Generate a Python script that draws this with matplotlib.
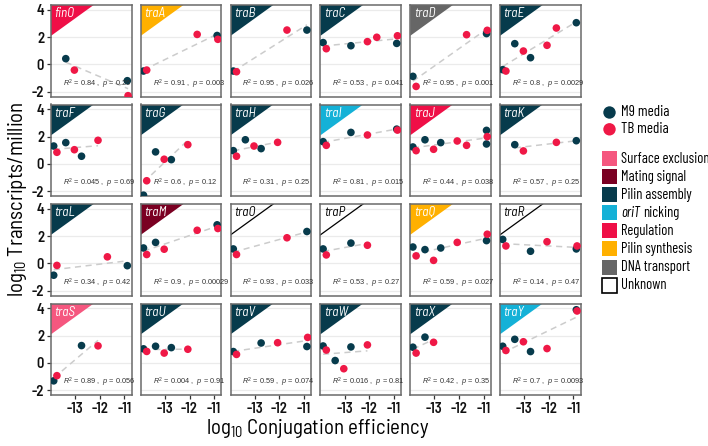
import numpy as np
import matplotlib
matplotlib.use("Agg")
import matplotlib.pyplot as plt
from matplotlib.patches import Polygon, Rectangle, Circle
from matplotlib.lines import Line2D

FAM = ['Barlow Semi Condensed', 'Barlow Condensed', 'DejaVu Sans']
LFAM = ['Barlow Condensed', 'Barlow Semi Condensed', 'DejaVu Sans']
plt.rcParams['axes.unicode_minus'] = False
plt.rcParams['font.family'] = FAM
plt.rcParams['mathtext.fontset'] = 'custom'
plt.rcParams['mathtext.rm'] = 'Liberation Sans'
plt.rcParams['mathtext.it'] = 'Liberation Sans:italic'

# ---------------- data ----------------
genes = ["finO", "traA", "traB", "traC", "traD", "traE",
         "traF", "traG", "traH", "traI", "traJ", "traK",
         "traL", "traM", "traO", "traP", "traQ", "traR",
         "traS", "traU", "traV", "traW", "traX", "traY"]
gene_function = ["Regulation", "Pilin synthesis", "Pilin assembly", "Pilin assembly", "DNA transport", "Pilin assembly",
                 "Pilin assembly", "Pilin assembly", "Pilin assembly", "oriT nicking", "Regulation", "Pilin assembly",
                 "Pilin assembly", "Mating signal", "Unknown", "Unknown", "Pilin synthesis", "Unknown",
                 "Surface exclusion", "Pilin assembly", "Pilin assembly", "Pilin assembly", "Pilin assembly", "oriT nicking"]

# log10 conjugation efficiency of each sample
m9_conj = [-13.87, -13.38, -12.74, -10.88, -10.88]
tb_conj = [-13.74, -13.03, -12.07, -11.69, -10.85]

N = None
# log10 transcripts/million, one row per gene (columns match the conj arrays)
m9_tpm = [
    [N, 0.42, N, -1.2, N],
    [-0.49, N, N, 2.12, N],
    [-0.49, N, N, 2.52, N],
    [1.6, N, 1.37, 1.54, N],
    [-0.88, N, N, 2.26, N],
    [-0.39, 1.52, 0.49, 3.06, N],
    [1.31, 1.56, 0.56, N, N],
    [-2.3, 0.88, 0.31, N, N],
    [0.97, 1.77, 1.12, N, N],
    [1.63, N, 2.31, 2.55, N],
    [1.24, 1.77, 1.56, 2.46, 1.46],
    [N, 1.41, N, 1.7, N],
    [-0.87, N, N, -0.17, N],
    [1.13, 1.54, N, 2.83, N],
    [1.06, N, N, 2.34, N],
    [1.06, N, 1.49, N, N],
    [1.2, 1.01, 1.13, 1.67, N],
    [1.76, N, 0.89, 1.06, N],
    [-1.32, N, 1.27, N, N],
    [1.03, 1.22, 1.12, N, N],
    [0.83, N, 1.46, 1.2, N],
    [1.24, 0.17, 1.17, N, N],
    [1.15, 1.89, N, N, N],
    [1.22, 1.73, 0.83, 3.9, N],
]
tb_tpm = [
    [N, -0.42, N, N, -2.3],
    [-0.42, N, N, 2.2, 1.84],
    [-0.54, N, N, 2.52, N],
    [1.15, N, 1.67, 1.99, 2.1],
    [-1.62, N, N, 2.18, 2.5],
    [-0.49, 0.98, 1.40, 2.67, N],
    [0.85, 1.04, 1.73, N, N],
    [-1.24, 0.34, 1.41, N, N],
    [0.56, 1.31, 1.58, N, N],
    [1.36, N, 2.12, N, 2.48],
    [0.97, 1.07, 1.68, 1.36, 2.0],
    [N, 0.95, N, 1.58, N],
    [-0.15, N, N, 0.48, N],
    [0.65, 1.04, N, 2.43, 2.56],
    [0.65, N, N, 1.88, N],
    [0.62, N, 1.33, N, N],
    [0.55, 0.22, 1.54, N, 2.14],
    [1.28, N, 1.59, N, 1.28],
    [-0.94, N, 1.25, N, N],
    [0.84, 0.72, 1.0, N, N],
    [0.62, N, 1.48, N, 1.87],
    [0.94, -0.43, 1.32, N, N],
    [0.72, 1.51, N, N, N],
    [0.91, 1.55, 1.05, N, 3.81],
]
r2_labels = ["0.84", "0.91", "0.95", "0.53", "0.95", "0.8",
             "0.045", "0.6", "0.31", "0.81", "0.44", "0.57",
             "0.34", "0.9", "0.93", "0.53", "0.59", "0.14",
             "0.89", "0.004", "0.59", "0.016", "0.42", "0.7"]
p_labels = ["0.26", "0.003", "0.026", "0.041", "0.001", "0.0029",
            "0.69", "0.12", "0.25", "0.015", "0.038", "0.25",
            "0.42", "0.00029", "0.033", "0.27", "0.027", "0.47",
            "0.056", "0.91", "0.074", "0.81", "0.35", "0.0093"]

function_names = ["Surface exclusion", "Mating signal", "Pilin assembly", "oriT nicking",
                  "Regulation", "Pilin synthesis", "DNA transport", "Unknown"]
function_colors = ["#F5577F", "#7A0022", "#073B4C", "#14B1D7",
                   "#EF0F47", "#FFB000", "#666666", "#FFFFFF"]
media_names = ["M9 media", "TB media"]
media_colors = ["#073B4C", "#EF1846"]

yticks = [-2, 0, 2, 4]
xticks = [-13, -12, -11]

# ---------------- figure ----------------
W, H = 708, 446
fig = plt.figure(figsize=(W / 100, H / 100), dpi=100)
fcol = dict(zip(function_names, function_colors))

ncol, nrow = 6, 4
pw, ph = 80.5, 91.5
for k, g in enumerate(genes):
    r, c = divmod(k, ncol)
    left = 51 + 89.8 * c
    top = 5 + 99.5 * r
    ax = fig.add_axes([left / W, 1 - (top + ph) / H, pw / W, ph / H])
    ax.set_xlim(-13.98, -10.71)
    ax.set_ylim(-2.36, 4.36)
    ax.set_yticks(yticks)
    ax.set_xticks(xticks)
    ax.grid(axis='y', color='#EBEBEB', lw=0.9, zorder=0)
    ax.set_axisbelow(True)
    for s in ax.spines.values():
        s.set_color('#6A6A6A')
        s.set_linewidth(1.1)
    ax.tick_params(length=3, width=0.9, color='#333333', pad=2,
                   labelsize=10.5, labelcolor='#111111')
    for lab in ax.get_xticklabels() + ax.get_yticklabels():
        lab.set_fontweight('semibold')
    if c != 0:
        ax.tick_params(axis='y', left=False, labelleft=False)
    if r != nrow - 1:
        ax.tick_params(axis='x', bottom=False, labelbottom=False)

    # functional-category corner triangle
    f = gene_function[k]
    tri = [(0, 1), (0.53, 1), (0, 0.663)]
    if f == "Unknown":
        ax.add_line(Line2D([0.53, 0], [1, 0.663], transform=ax.transAxes,
                           color='black', lw=0.9, zorder=2))
        tcol = 'black'
    else:
        ax.add_patch(Polygon(tri, closed=True, transform=ax.transAxes,
                             facecolor=fcol[f], edgecolor='none', zorder=1))
        tcol = 'white'
    ax.text(0.045, 0.975, g, transform=ax.transAxes, ha='left', va='top',
            fontsize=9.5, style='italic', color=tcol, zorder=4)

    # points
    mx = [x for x, y in zip(m9_conj, m9_tpm[k]) if y is not None]
    my = [y for y in m9_tpm[k] if y is not None]
    tx = [x for x, y in zip(tb_conj, tb_tpm[k]) if y is not None]
    ty = [y for y in tb_tpm[k] if y is not None]

    # regression line across both media
    ax_all = np.array(mx + tx)
    ay_all = np.array(my + ty)
    slope, icpt = np.polyfit(ax_all, ay_all, 1)
    xs = np.array([ax_all.min(), ax_all.max()])
    ax.plot(xs, icpt + slope * xs, ls=(0, (4, 3)), color='#CCCCCC', lw=1.1, zorder=2)

    ax.scatter(mx, my, s=30, color=media_colors[0], edgecolors='none', zorder=3)
    ax.scatter(tx, ty, s=30, color=media_colors[1], edgecolors='none', zorder=3)

    ax.text(-13.5, -1.45, r"$R^2$ = %s ,  $p$ = %s" % (r2_labels[k], p_labels[k]),
            ha='left', va='center', fontsize=5.3, color='#333333',
            family='Liberation Sans', zorder=4)

# axis titles
fig.text(18 / W, 1 - 199 / H, r"$\mathregular{log_{10}}$ Transcripts/million", rotation=90,
         ha='center', va='center', fontsize=15)
fig.text(318 / W, 1 - 428 / H, r"$\mathregular{log_{10}}$ Conjugation efficiency",
         ha='center', va='center', fontsize=15)

# legend
lax = fig.add_axes([0, 0, 1, 1])
lax.set_xlim(0, W)
lax.set_ylim(H, 0)
lax.axis('off')
LFS = 10.5
for i, (nm, colr) in enumerate(zip(media_names, media_colors)):
    yy = 112.5 + 16.8 * i
    lax.add_patch(Circle((609.5, yy), 6.2, facecolor=colr, edgecolor='none'))
    lax.text(621, yy, nm, ha='left', va='center', fontsize=LFS + 0.3, family=LFAM)
renderer = fig.canvas.get_renderer()
for i, (nm, colr) in enumerate(zip(function_names, function_colors)):
    yy = 158.7 + 18.05 * i
    ec = 'black' if nm == "Unknown" else 'none'
    lax.add_patch(Rectangle((601.5, yy - 7.5), 15, 15, facecolor=colr,
                            edgecolor=ec, lw=1.2))
    if nm == "oriT nicking":
        t1 = lax.text(621, yy, "oriT", ha='left', va='center', fontsize=LFS,
                      style='italic', family=LFAM)
        bb = t1.get_window_extent(renderer=renderer)
        lax.text(621 + bb.width + 3, yy, "nicking", ha='left', va='center',
                 fontsize=LFS, family=LFAM)
    else:
        lax.text(621, yy, nm, ha='left', va='center', fontsize=LFS, family=LFAM)

fig.savefig("out.png", dpi=100)
